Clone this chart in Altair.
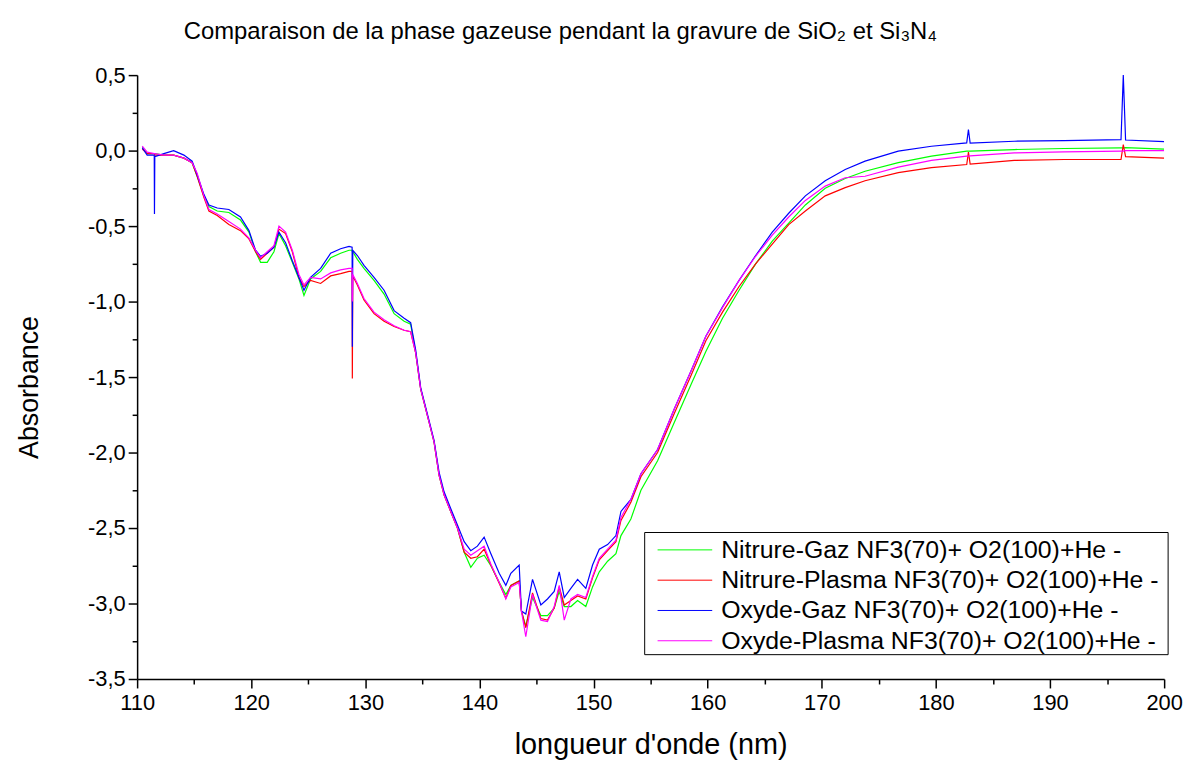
import altair as alt
import pandas as pd

# ---------------- data ----------------
wavelength = [
    110.45, 110.88, 111.50, 111.52, 111.55, 112.34, 113.2, 114.1, 114.82, 115.26,
    115.85, 116.29, 117.02, 118.04, 119.06, 119.8, 120.38, 120.82, 121.4, 121.99,
    122.43, 123.01, 123.6, 124.18, 124.62, 125.2, 126.08, 126.96, 127.83, 128.57,
    128.84, 128.86, 128.90, 129.3, 129.88, 130.76, 131.64, 132.52, 133.4, 133.97,
    134.41, 134.85, 135.15, 135.59, 136.02, 136.46, 136.9, 137.48, 138.07, 138.66,
    139.24, 139.82, 140.41, 141.0, 141.73, 142.31, 142.75, 143.48, 143.68, 144.06,
    144.65, 145.38, 145.96, 146.55, 146.99, 147.43, 148.01, 148.6, 149.32, 149.91,
    150.5, 151.23, 151.96, 152.4, 153.27, 154.15, 155.61, 157.08, 158.54, 159.84,
    161.30, 162.75, 164.20, 165.66, 167.10, 168.56, 170.30, 172.05, 173.79, 176.70,
    179.61, 182.70, 182.85, 183.00, 186.87, 191.23, 196.22, 196.42, 196.62, 200.0,
]

nitrure_gaz = [
    0.02, -0.02, -0.02, -0.02, -0.02, -0.03, -0.03, -0.05, -0.08, -0.17,
    -0.30, -0.37, -0.40, -0.41, -0.46, -0.54, -0.67, -0.74, -0.74, -0.67,
    -0.55, -0.63, -0.74, -0.85, -0.96, -0.85, -0.80, -0.71, -0.68, -0.66,
    -0.66, -0.67, -0.67, -0.72, -0.78, -0.86, -0.95, -1.08, -1.13, -1.15,
    -1.34, -1.58, -1.67, -1.80, -1.93, -2.15, -2.28, -2.39, -2.50, -2.66,
    -2.76, -2.70, -2.68, -2.75, -2.86, -2.94, -2.88, -2.85, -3.05, -3.15,
    -2.96, -3.08, -3.08, -3.03, -2.92, -3.02, -3.02, -2.98, -3.02, -2.89,
    -2.79, -2.72, -2.67, -2.55, -2.44, -2.25, -2.055, -1.80, -1.55, -1.33,
    -1.11, -0.925, -0.75, -0.60, -0.48, -0.36, -0.25, -0.185, -0.137, -0.08,
    -0.037, -0.004, -0.004, -0.004, 0.007, 0.014, 0.018, 0.018, 0.02, 0.01,
]

nitrure_plasma = [
    0.01, -0.02, -0.02, -0.02, -0.03, -0.03, -0.03, -0.05, -0.08, -0.17,
    -0.31, -0.40, -0.43, -0.49, -0.53, -0.585, -0.67, -0.72, -0.68, -0.64,
    -0.52, -0.55, -0.67, -0.84, -0.90, -0.86, -0.88, -0.83, -0.815, -0.80,
    -0.80, -1.51, -0.83, -0.89, -0.99, -1.08, -1.13, -1.165, -1.19, -1.20,
    -1.34, -1.58, -1.67, -1.80, -1.93, -2.15, -2.28, -2.39, -2.50, -2.66,
    -2.70, -2.69, -2.64, -2.745, -2.865, -2.965, -2.88, -2.85, -3.05, -3.16,
    -2.93, -3.10, -3.11, -3.03, -2.89, -3.01, -2.98, -2.95, -2.97, -2.83,
    -2.71, -2.65, -2.59, -2.45, -2.33, -2.16, -2.0, -1.74, -1.49, -1.26,
    -1.07, -0.90, -0.75, -0.62, -0.49, -0.40, -0.30, -0.245, -0.20, -0.146,
    -0.113, -0.092, -0.01, -0.09, -0.065, -0.059, -0.059, 0.04, -0.04, -0.05,
]

oxyde_gaz = [
    0.02, -0.03, -0.03, -0.42, -0.04, -0.02, 0.0, -0.03, -0.07, -0.16,
    -0.29, -0.36, -0.38, -0.39, -0.44, -0.53, -0.66, -0.70, -0.68, -0.64,
    -0.54, -0.61, -0.73, -0.84, -0.925, -0.84, -0.78, -0.68, -0.65, -0.635,
    -0.64, -1.30, -0.66, -0.695, -0.76, -0.84, -0.925, -1.06, -1.11, -1.14,
    -1.32, -1.57, -1.66, -1.79, -1.92, -2.13, -2.26, -2.37, -2.48, -2.59,
    -2.65, -2.62, -2.56, -2.67, -2.80, -2.88, -2.80, -2.745, -3.05, -3.07,
    -2.84, -3.01, -2.97, -2.92, -2.79, -2.96, -2.90, -2.84, -2.90, -2.745,
    -2.64, -2.61, -2.55, -2.39, -2.31, -2.14, -1.98, -1.71, -1.46, -1.23,
    -1.035, -0.86, -0.695, -0.54, -0.415, -0.30, -0.20, -0.125, -0.07, -0.004,
    0.029, 0.051, 0.14, 0.05, 0.062, 0.066, 0.073, 0.50, 0.07, 0.06,
]

oxyde_plasma = [
    0.03, -0.01, -0.02, -0.02, -0.02, -0.03, -0.03, -0.05, -0.08, -0.15,
    -0.30, -0.39, -0.42, -0.47, -0.52, -0.58, -0.66, -0.71, -0.67, -0.63,
    -0.50, -0.54, -0.66, -0.82, -0.89, -0.84, -0.85, -0.81, -0.79, -0.78,
    -0.78, -1.0, -0.82, -0.88, -0.98, -1.07, -1.12, -1.16, -1.19, -1.20,
    -1.34, -1.58, -1.67, -1.80, -1.93, -2.15, -2.28, -2.39, -2.50, -2.64,
    -2.68, -2.65, -2.62, -2.74, -2.86, -2.97, -2.89, -2.86, -3.05, -3.22,
    -2.94, -3.11, -3.12, -3.02, -2.88, -3.11, -2.97, -2.94, -2.96, -2.82,
    -2.70, -2.64, -2.58, -2.43, -2.31, -2.14, -1.98, -1.71, -1.46, -1.23,
    -1.04, -0.86, -0.70, -0.56, -0.44, -0.33, -0.235, -0.18, -0.17, -0.109,
    -0.065, -0.037, -0.037, -0.035, -0.015, -0.008, -0.004, -0.004, 0.0, 0.0,
]

series_labels = [
    "Nitrure-Gaz NF3(70)+ O2(100)+He -",
    "Nitrure-Plasma NF3(70)+ O2(100)+He -",
    "Oxyde-Gaz NF3(70)+ O2(100)+He -",
    "Oxyde-Plasma NF3(70)+ O2(100)+He -",
]
series_colors = ["#00ff00", "#ff0000", "#0000ff", "#ff00ff"]

x_ticks = [110, 115, 120, 125, 130, 135, 140, 145, 150, 155,
           160, 165, 170, 175, 180, 185, 190, 195, 200]
y_ticks = [-3.5, -3.25, -3.0, -2.75, -2.5, -2.25, -2.0, -1.75, -1.5, -1.25,
           -1.0, -0.75, -0.5, -0.25, 0.0, 0.25, 0.5]

title_text = "Comparaison de la phase gazeuse pendant la gravure de SiO\u2082 et Si\u2083N\u2084"

# ---------------- table ----------------
rows = []
for label, values in zip(series_labels,
                         [nitrure_gaz, nitrure_plasma, oxyde_gaz, oxyde_plasma]):
    for w, v in zip(wavelength, values):
        rows.append({"series": label, "wavelength": w, "absorbance": v})
df = pd.DataFrame(rows)

FONT = "Liberation Sans"
PLOT_W, PLOT_H = 1034, 608

color_scale = alt.Scale(domain=series_labels, range=series_colors)

x_axis = alt.Axis(
    values=x_ticks,
    title="longueur d'onde (nm)",
    labelExpr="datum.value % 10 == 0 ? datum.label : ''",
    tickSize={"condition": {"test": "datum.value % 10 != 0", "value": 5}, "value": 9},
    labelFontSize=22,
    labelPadding=5,
    labelFlush=False,
    labelOverlap=False,
    titleFontSize=29,
    titleBaseline="alphabetic",
    titleY=75,
)
y_axis = alt.Axis(
    values=y_ticks,
    title="Absorbance",
    labelExpr="round(datum.value*4) % 2 == 0 ? replace(replace(format(datum.value, '.1f'), '.', ','), '\u2212', '-') : ''",
    tickSize={"condition": {"test": "round(datum.value*4) % 2 != 0", "value": 5}, "value": 9},
    labelFontSize=22,
    labelPadding=3,
    labelFlush=False,
    labelOverlap=False,
    titleFontSize=27,
    titleBaseline="middle",
    titleX=-108,
    titleY=314,
)

lines = alt.Chart(df).mark_line(strokeWidth=1.2, clip=True).encode(
    x=alt.X("wavelength:Q",
            scale=alt.Scale(domain=[110, 200], nice=False, zero=False),
            axis=x_axis),
    y=alt.Y("absorbance:Q",
            scale=alt.Scale(domain=[-3.5, 0.5], nice=False, zero=False),
            axis=y_axis),
    color=alt.Color("series:N", scale=color_scale, legend=None),
)

# ---------------- legend box (drawn by hand) ----------------
legend_layers = [
    alt.Chart(pd.DataFrame({"k": [0]})).mark_rect(
        fill="white", stroke="black", strokeWidth=1
    ).encode(
        x=alt.value(511), x2=alt.value(1038),
        y=alt.value(460.5), y2=alt.value(583.5),
    )
]
row_y = [478, 508.5, 539, 569.5]
for i, (lab, col) in enumerate(zip(series_labels, series_colors)):
    ldf = pd.DataFrame({"series": [lab]})
    legend_layers.append(
        alt.Chart(ldf).mark_rule(color=col, strokeWidth=1).encode(
            x=alt.value(524), x2=alt.value(579), y=alt.value(row_y[i])
        )
    )
    legend_layers.append(
        alt.Chart(ldf).mark_text(
            align="left", baseline="middle", font=FONT, fontSize=25, color="black"
        ).encode(
            x=alt.value(588), y=alt.value(row_y[i]), text="series:N"
        )
    )

chart = alt.layer(lines, *legend_layers).properties(
    width=PLOT_W,
    height=PLOT_H,
    padding={"left": 130, "top": 65, "right": 21, "bottom": 82},
    autosize=alt.AutoSizeParams(type="none"),
    title=alt.Title(
        title_text, anchor="start", frame="group", dx=47, offset=20,
        font=FONT, fontSize=24, fontWeight="normal", color="black",
    ),
).configure_view(stroke=None).configure_axis(
    grid=False,
    domainColor="black",
    domainWidth=1.5,
    tickColor="black",
    tickWidth=1.5,
    labelFont=FONT,
    labelColor="black",
    titleFont=FONT,
    titleColor="black",
    titleFontWeight="normal",
)

chart.save("out.html", embed_options={"renderer": "svg", "actions": False})
